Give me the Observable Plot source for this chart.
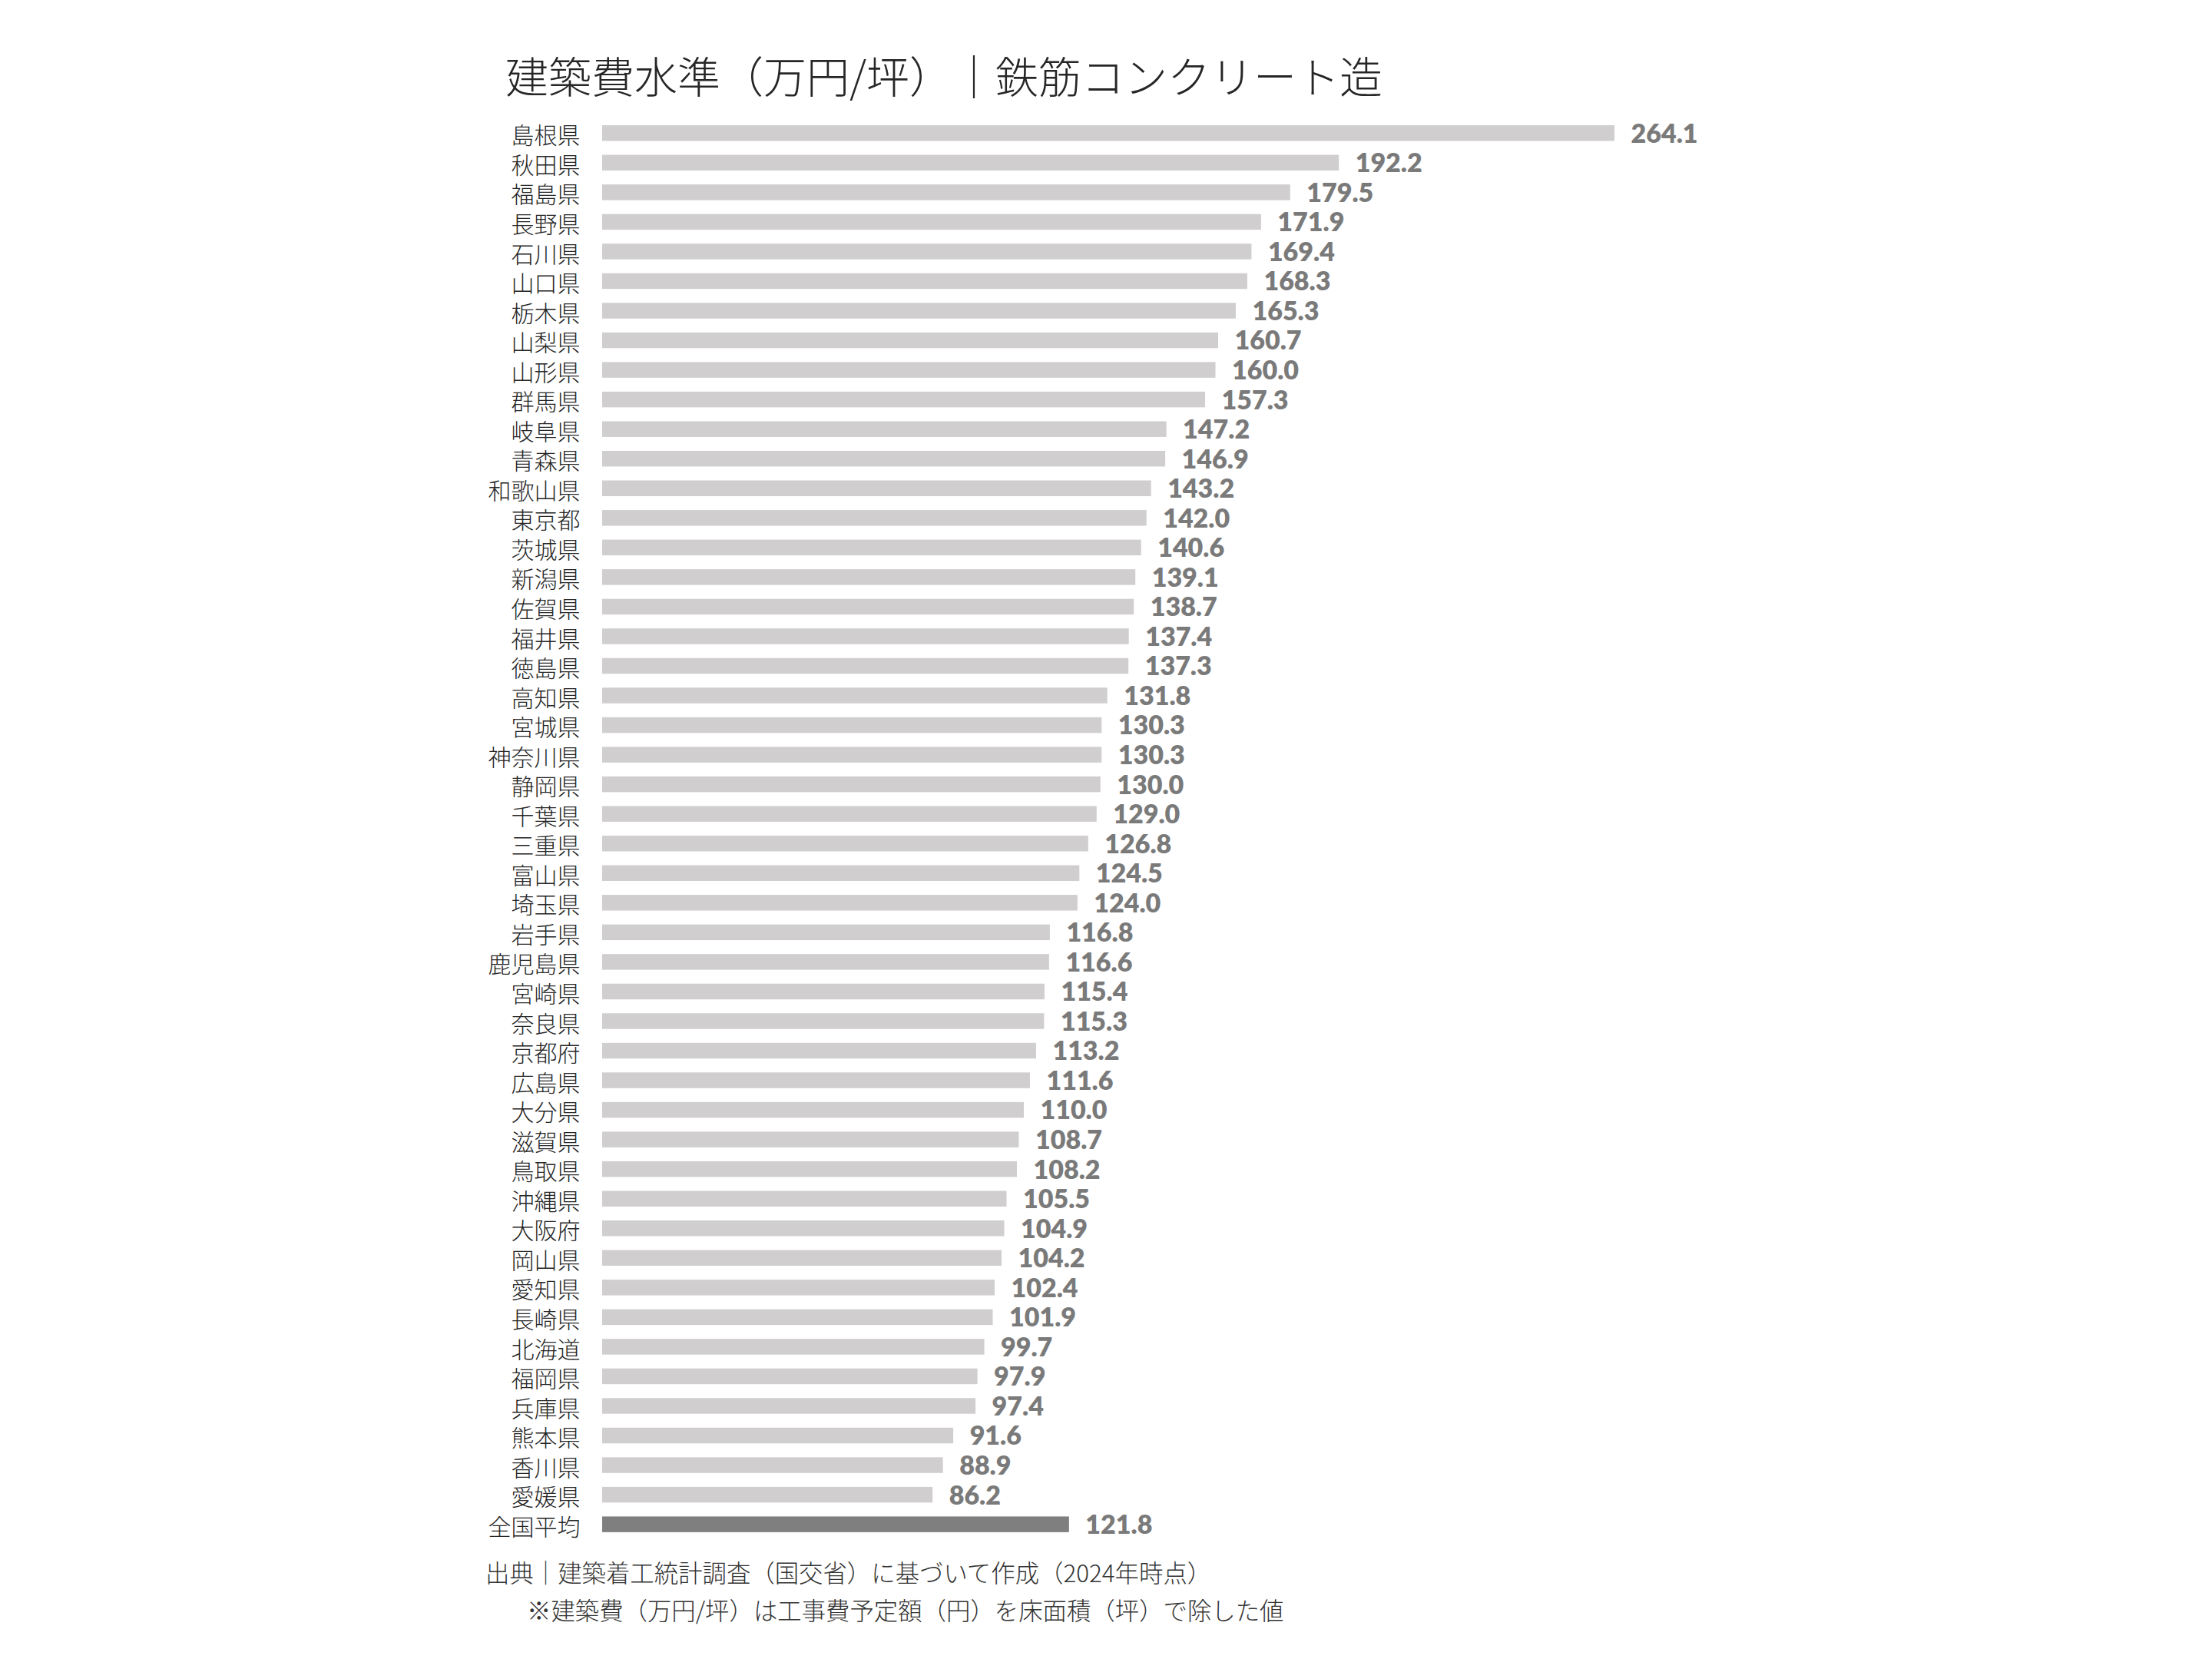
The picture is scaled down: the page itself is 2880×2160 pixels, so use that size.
<!DOCTYPE html>
<html lang="ja">
<head>
<meta charset="utf-8">
<script src="https://cdn.jsdelivr.net/npm/d3@7"></script>
<script src="https://cdn.jsdelivr.net/npm/@observablehq/plot@0.6"></script>
<style>
  html, body { margin: 0; padding: 0; background: #ffffff; }
  #wrap { position: relative; width: 2880px; height: 2160px; overflow: hidden; background: #fff;
          font-family: "Noto Sans CJK JP", "Noto Sans", sans-serif; }
  #title { position: absolute; left: 658px; top: 58px; font-size: 56px; font-weight: 300; color: #262626;
           line-height: 78px; white-space: nowrap; }
  #chart { position: absolute; left: 0; top: 142px; }
  .cap { position: absolute; font-size: 31.4px; font-weight: 300; color: #333; white-space: nowrap; line-height: 40px; }
  #cap1 { left: 632px; top: 2027px; }
  #cap2 { left: 686px; top: 2076px; }
</style>
</head>
<body>
<div id="wrap">
  <div id="title">建築費水準（万円/坪）｜鉄筋コンクリート造</div>
  <div id="chart"></div>
  <div class="cap" id="cap1">出典｜建築着工統計調査（国交省）に基づいて作成（2024年時点）</div>
  <div class="cap" id="cap2">※建築費（万円/坪）は工事費予定額（円）を床面積（坪）で除した値</div>
</div>
<script>
const prefectures = ["島根県","秋田県","福島県","長野県","石川県","山口県","栃木県","山梨県","山形県","群馬県",
  "岐阜県","青森県","和歌山県","東京都","茨城県","新潟県","佐賀県","福井県","徳島県","高知県",
  "宮城県","神奈川県","静岡県","千葉県","三重県","富山県","埼玉県","岩手県","鹿児島県","宮崎県",
  "奈良県","京都府","広島県","大分県","滋賀県","鳥取県","沖縄県","大阪府","岡山県","愛知県",
  "長崎県","北海道","福岡県","兵庫県","熊本県","香川県","愛媛県"];
const costs = [264.1,192.2,179.5,171.9,169.4,168.3,165.3,160.7,160.0,157.3,
  147.2,146.9,143.2,142.0,140.6,139.1,138.7,137.4,137.3,131.8,
  130.3,130.3,130.0,129.0,126.8,124.5,124.0,116.8,116.6,115.4,
  115.3,113.2,111.6,110.0,108.7,108.2,105.5,104.9,104.2,102.4,
  101.9,99.7,97.9,97.4,91.6,88.9,86.2];
const averageLabel = "全国平均";
const averageValue = 121.8;

const rows = prefectures.map((p, i) => ({name: p, value: costs[i], avg: false}));
rows.push({name: averageLabel, value: averageValue, avg: true});
const names = rows.map(d => d.name);

const step = 38.54;
const r0 = 12;
const chart = Plot.plot({
  width: 2880,
  height: 1880,
  marginLeft: 784,
  marginRight: 778,
  marginTop: 12,
  marginBottom: 18,
  style: {fontFamily: "'Noto Sans CJK JP', 'Noto Sans', sans-serif", background: "transparent"},
  x: {domain: [0, d3.max(rows, d => d.value)], axis: null},
  y: {domain: names, range: [r0, r0 + step * names.length], round: false, paddingInner: 0.47, paddingOuter: 0.235, align: 0.5, label: null},
  marks: [
    Plot.barX(rows.filter(d => !d.avg), {x: "value", y: "name", fill: "#d0cece"}),
    Plot.barX(rows.filter(d => d.avg), {x: "value", y: "name", fill: "#7f7f7f"}),
    Plot.axisY({tickSize: 0, tickPadding: 29, fontSize: 30, fontWeight: 300, fill: "#262626", dy: 4, label: null}),
    Plot.text(rows, {x: "value", y: "name", text: d => d.value.toFixed(1), dx: 21, dy: 1, textAnchor: "start",
      fontSize: 34, fontWeight: 800, fill: "#7a7a7a", fontFamily: "Lato, 'Open Sans', sans-serif"})
  ]
});
document.getElementById("chart").appendChild(chart);
</script>
</body>
</html>
